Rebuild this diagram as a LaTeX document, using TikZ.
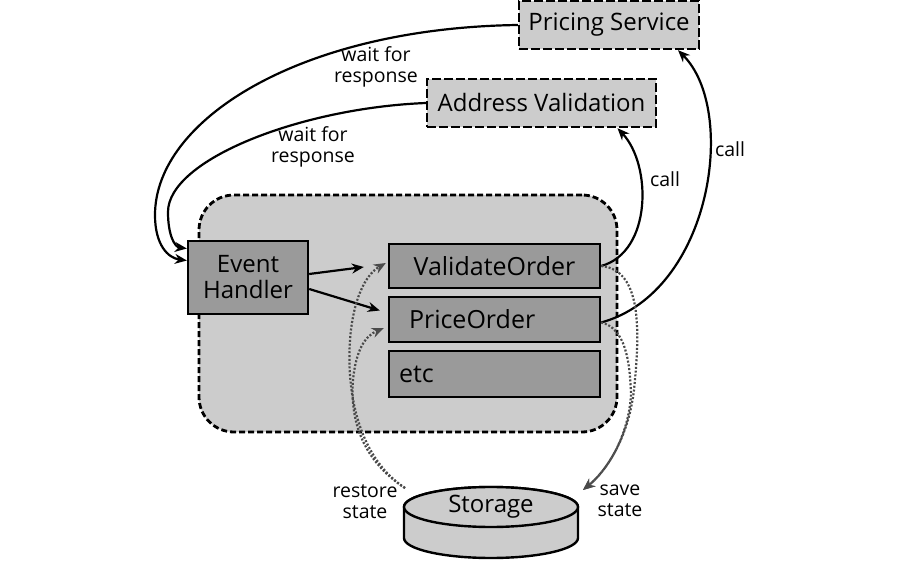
\documentclass[tikz,border=0pt]{standalone}
\usepackage{fontspec}
\setmainfont{Open Sans}
\usetikzlibrary{arrows.meta,shapes.geometric}
\definecolor{lightfill}{HTML}{CCCCCC}
\definecolor{darkfill}{HTML}{9A9A9A}
\definecolor{dotgray}{HTML}{4A4A4A}
\begin{document}
\begin{tikzpicture}[x=1pt,y=-1pt,
  svc/.style={draw, line width=2.4pt, dash pattern=on 9pt off 3pt, fill=lightfill, inner sep=0pt, font=\fontsize{24}{26}\selectfont},
  proc/.style={draw, line width=2.4pt, fill=darkfill, inner sep=0pt, font=\fontsize{25}{27}\selectfont},
  lbl/.style={font=\fontsize{19.5}{21}\selectfont, align=center, inner sep=0pt},
  arr/.style={line width=2.2pt, -{Stealth[length=12pt,width=10pt]}},
  dotarr/.style={line width=2.2pt, dotgray, dash pattern=on 2pt off 1.8pt, -{Stealth[length=12pt,width=10pt]}}
]
\useasboundingbox (0,0) rectangle (900,561);

% container
\node[draw, line width=2.8pt, dash pattern=on 6pt off 3pt, rounded corners=35pt, fill=lightfill,
      minimum width=418pt, minimum height=237pt, inner sep=0pt] (container) at (408,313.5) {};

% services
\node[svc, minimum width=180pt, minimum height=48pt] (ps) at (609,25) {Pricing Service};
\node[svc, minimum width=229pt, minimum height=48pt] (av) at (541.5,103) {Address Validation};

% processes
\node[proc, minimum width=120pt, minimum height=73pt, align=center, font=\fontsize{24}{26}\selectfont] (eh) at (248,277.5) {Event\\Handler};
\node[proc, minimum width=211pt, minimum height=44pt] (vo) at (494.5,266) {ValidateOrder};
\node[proc, minimum height=45pt, inner xsep=20pt, text width=171pt, align=left] (po) at (494.5,319.5) {PriceOrder};
\node[proc, minimum height=46pt, inner xsep=10pt, text width=191pt, align=left] (etc) at (494.5,374) {etc};

% storage cylinder
\draw[line width=2.4pt, fill=lightfill] (404,507) -- (404,538)
   arc[start angle=180, end angle=360, x radius=87pt, y radius=20pt] -- (578,507)
   arc[start angle=0, end angle=180, x radius=87pt, y radius=20pt] -- cycle;
\node[ellipse, draw, line width=2.4pt, fill=lightfill, minimum width=174pt, minimum height=40pt, inner sep=0pt,
      font=\fontsize{24}{26}\selectfont] (storage) at (491,507) {Storage};
\coordinate (restoreStart) at (405,488);
\coordinate (saveEnd) at (583,490);

% wait for response arrows
\draw[arr] (ps.west) .. controls (300,28) and (155,120) .. (155,215)
           .. controls (155,245) and (168,258) .. ([yshift=17pt]eh.west);
\draw[arr] (av.west) .. controls (300,108) and (168,160) .. (168,212)
           .. controls (168,236) and (175,247) .. ([yshift=29pt]eh.west);

% event handler to processes
\draw[arr] ([yshift=3.5pt]eh.east) -- ([xshift=-24pt,yshift=-1pt]vo.west);
\draw[arr] ([yshift=-11.5pt]eh.east) -- ([xshift=-8pt,yshift=9pt]po.west);

% call arrows
\draw[arr] (vo.east) .. controls (652,252) and (652,165) .. ([xshift=76pt]av.south);
\draw[arr] ([yshift=-3pt]po.east) .. controls (712,292) and (738,110) .. ([xshift=69pt]ps.south);

% save state
\draw[dotarr] (vo.east) .. controls (642,270) and (640,330) .. (634,390)
              .. controls (628,440) and (605,472) .. (saveEnd);
\draw[dotarr] ([yshift=-3pt]po.east) .. controls (625,328) and (630,360) .. (631,395)
              .. controls (628,440) and (605,472) .. (saveEnd);

% restore state
\draw[dotarr] (restoreStart) .. controls (362,460) and (346,400) .. (350,340)
              .. controls (353,300) and (365,275) .. ([xshift=-2pt,yshift=3pt]vo.west);
\draw[dotarr] (restoreStart) .. controls (362,460) and (350,420) .. (353,380)
              .. controls (356,350) and (365,336) .. ([xshift=-4pt,yshift=-8.5pt]po.west);

% labels
\node[lbl] at (376,67) {wait for\\response};
\node[lbl] at (313,147) {wait for\\response};
\node[lbl] at (665,179) {call};
\node[lbl] at (730,149) {call};
\node[lbl] at (365,502) {restore\\state};
\node[lbl] at (620,501) {save\\state};
\end{tikzpicture}
\end{document}
